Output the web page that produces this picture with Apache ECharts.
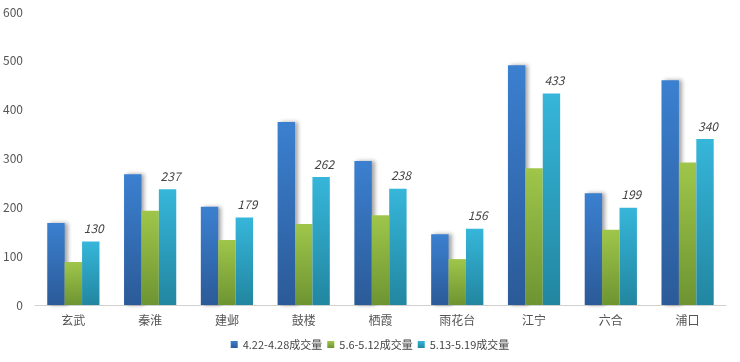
<!DOCTYPE html>
<html><head><meta charset="utf-8">
<script src="https://cdn.jsdelivr.net/npm/echarts@6/dist/echarts.min.js"></script>
<style>html,body{margin:0;padding:0;background:#fff}#c{width:740px;height:362px}</style>
</head><body><div id="c"></div>
<script>
const categories = ['玄武','秦淮','建邺','鼓楼','栖霞','雨花台','江宁','六合','浦口'];
const seriesNames = ['4.22-4.28成交量','5.6-5.12成交量','5.13-5.19成交量'];
const week1 = [168, 268, 201, 375, 295, 145, 491, 229, 460];
const week2 = [88, 193, 133, 166, 184, 94, 280, 154, 292];
const week3 = [130, 237, 179, 262, 238, 156, 433, 199, 340];

const font = '"Noto Sans CJK SC", "Noto Sans", sans-serif';
function grad(top, bottom){
  return new echarts.graphic.LinearGradient(0,0,0,1,[{offset:0,color:top},{offset:1,color:bottom}]);
}
const chart = echarts.init(document.getElementById('c'));
chart.setOption({
  animation:false,
  textStyle:{fontFamily:font},
  grid:{left:32,right:14,top:12,bottom:57},
  legend:{bottom:7,itemWidth:7,itemHeight:7,itemGap:5,icon:'rect',
    textStyle:{fontSize:11,color:'#444',fontFamily:font},
    data:seriesNames},
  xAxis:{type:'category',data:categories,
    axisLine:{lineStyle:{color:'#d0d0d0'}},axisTick:{show:false},
    axisLabel:{color:'#555',fontSize:12,margin:9,fontFamily:font}},
  yAxis:{type:'value',min:0,max:600,interval:100,
    axisLine:{show:false},axisTick:{show:false},splitLine:{show:false},
    axisLabel:{color:'#555',fontSize:12,margin:12,fontFamily:font}},
  series:[
    {name:seriesNames[0],type:'bar',data:week1,barGap:'0%',barCategoryGap:'32%',
     itemStyle:{color:grad('#3b80d0','#2b5a98'),shadowColor:'rgba(0,0,0,0.35)',shadowBlur:4,shadowOffsetX:3,shadowOffsetY:0}},
    {name:seriesNames[1],type:'bar',data:week2,
     itemStyle:{color:grad('#9fc64a','#6e9432')}},
    {name:seriesNames[2],type:'bar',data:week3,
     itemStyle:{color:grad('#36b6da','#2286a0')},
     label:{show:true,position:'top',distance:7,offset:[3,0],fontStyle:'italic',fontSize:12,color:'#444',fontFamily:font}}
  ],
  color:['#3a78c8','#8fbb3e','#32aed0']
});
</script></body></html>
